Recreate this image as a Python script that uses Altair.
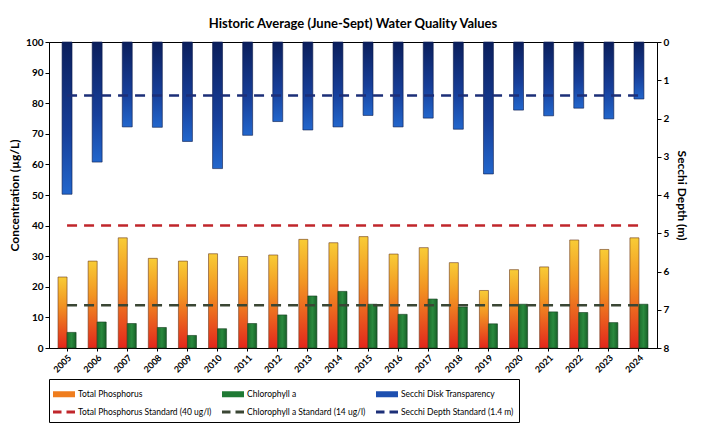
import altair as alt
import pandas as pd

years = [str(y) for y in range(2005, 2025)]
total_phosphorus = [23.2, 28.4, 36.0, 29.3, 28.4, 30.8, 29.9, 30.4, 35.5, 34.4,
                    36.4, 30.7, 32.8, 27.9, 18.8, 25.6, 26.5, 35.3, 32.2, 36.0]
chlorophyll_a = [5.1, 8.5, 8.0, 6.7, 4.1, 6.3, 8.0, 10.8, 17.0, 18.5,
                 14.3, 11.0, 16.0, 13.4, 7.9, 14.3, 11.8, 11.6, 8.3, 14.3]
secchi_depth = [3.98, 3.14, 2.22, 2.23, 2.60, 3.31, 2.44, 2.08, 2.30, 2.22,
                1.92, 2.22, 1.99, 2.28, 3.45, 1.78, 1.93, 1.73, 2.01, 1.49]
tp_standard = 40
chl_standard = 14
secchi_standard = 1.4

series_names = ["Total Phosphorus", "Chlorophyll a", "Secchi Disk Transparency",
                "Total Phosphorus Standard (40 ug/l)", "Chlorophyll a Standard (14 ug/l)",
                "Secchi Depth Standard (1.4 m)"]
series_colors = ["#ef7d1e", "#1f7a34", "#1d4fb0", "#c0262b", "#3a4634", "#1c2f78"]
rect_path = "M-1.1,-0.3H1.1V0.3H-1.1Z"
dash_path = "M-1.1,-0.14H-0.25V0.14H-1.1Z M0.25,-0.14H1.1V0.14H0.25Z"
series_shapes = [rect_path, rect_path, rect_path, dash_path, dash_path, dash_path]

bars_df = pd.DataFrame({
    "year": years + years,
    "series": [series_names[0]] * len(years) + [series_names[1]] * len(years),
    "value": total_phosphorus + chlorophyll_a,
})
secchi_df = pd.DataFrame({"year": years, "depth": secchi_depth})
std_df = pd.DataFrame({
    "year": years,
    "tp_std": [tp_standard] * len(years),
    "chl_std": [chl_standard] * len(years),
    "secchi_std": [secchi_standard] * len(years),
})
# legend-only points, placed below the axis range and clipped away
legend_df = pd.DataFrame({"year": [years[0]] * 6, "series": series_names, "value": [-50] * 6})

FONT = "Lato"

x_enc = alt.X("year:N", sort=years,
              scale=alt.Scale(paddingInner=0.4, paddingOuter=0.3),
              axis=alt.Axis(title=None, labelAngle=-45, labelFontSize=9, labelPadding=2,
                            tickSize=3, labelAlign="right", labelBaseline="top"))
left_scale = alt.Scale(domain=[0, 100])
left_axis = alt.Axis(title="Concentration (µg/L)", values=list(range(0, 101, 10)),
                     tickSize=4, titlePadding=4, orient="left", labelOverlap=False)
right_scale = alt.Scale(domain=[0, 8], reverse=True)
right_axis = alt.Axis(orient="right", title="Secchi Depth (m)", values=list(range(0, 9)),
                      tickSize=4, titlePadding=6, labelOverlap=False)

xoff = alt.XOffset("series:N", sort=series_names[:2],
                   scale=alt.Scale(domain=series_names[:2], paddingInner=0, paddingOuter=0))

orange_grad = alt.Gradient(
    gradient="linear", x1=0, x2=0, y1=0, y2=1,
    stops=[alt.GradientStop(color="#f8cc36", offset=0),
           alt.GradientStop(color="#f29422", offset=0.4),
           alt.GradientStop(color="#e2261b", offset=1)])
green_grad = alt.Gradient(
    gradient="linear", x1=0, x2=1, y1=0, y2=0,
    stops=[alt.GradientStop(color="#1b6a2c", offset=0),
           alt.GradientStop(color="#2a8a3e", offset=0.5),
           alt.GradientStop(color="#176028", offset=1)])
blue_grad = alt.Gradient(
    gradient="linear", x1=0, x2=0, y1=0, y2=1,
    stops=[alt.GradientStop(color="#0b1f5c", offset=0),
           alt.GradientStop(color="#173f9a", offset=0.6),
           alt.GradientStop(color="#2266cc", offset=1)])

tp_bars = alt.Chart(bars_df).transform_filter(
    alt.datum.series == series_names[0]
).mark_bar(fill=orange_grad, stroke="#6b3a20", strokeWidth=0.6).encode(
    x=x_enc, xOffset=xoff, y=alt.Y("value:Q", scale=left_scale, axis=left_axis))

chl_bars = alt.Chart(bars_df).transform_filter(
    alt.datum.series == series_names[1]
).mark_bar(fill=green_grad, stroke="#123d1c", strokeWidth=0.6).encode(
    x=x_enc, xOffset=xoff, y=alt.Y("value:Q", scale=left_scale, axis=left_axis))

tp_line = alt.Chart(std_df).mark_line(color="#c0262b", strokeWidth=2.5, strokeDash=[10, 7]).encode(
    x=x_enc, y=alt.Y("tp_std:Q", scale=left_scale, axis=left_axis))
chl_line = alt.Chart(std_df).mark_line(color="#3a4634", strokeWidth=2.5, strokeDash=[10, 7]).encode(
    x=x_enc, y=alt.Y("chl_std:Q", scale=left_scale, axis=left_axis))

legend_pts = alt.Chart(legend_df).mark_point(filled=True, clip=True, opacity=1).encode(
    x=x_enc,
    y=alt.Y("value:Q", scale=left_scale, axis=left_axis),
    color=alt.Color("series:N", sort=series_names,
                    scale=alt.Scale(domain=series_names, range=series_colors),
                    legend=alt.Legend(title=None, orient="bottom", direction="horizontal",
                                      columns=3, symbolSize=400, symbolStrokeWidth=0,
                                      symbolOpacity=1, labelFontSize=8.5, labelFont=FONT,
                                      labelColor="black", columnPadding=10, rowPadding=3,
                                      strokeColor="black", padding=5, offset=4,
                                      labelLimit=300)),
    shape=alt.Shape("series:N", sort=series_names,
                    scale=alt.Scale(domain=series_names, range=series_shapes)),
)

left = alt.layer(tp_bars, chl_bars, tp_line, chl_line, legend_pts)

secchi_bars = alt.Chart(secchi_df).mark_bar(
    fill=blue_grad, stroke="#0a1a4a", strokeWidth=0.6, width=alt.RelativeBandSize(0.55)
).encode(
    x=x_enc,
    y=alt.Y("depth:Q", scale=right_scale, axis=right_axis))
secchi_line = alt.Chart(std_df).mark_line(color="#1c2f78", strokeWidth=2.5, strokeDash=[10, 7]).encode(
    x=x_enc, y=alt.Y("secchi_std:Q", scale=right_scale, axis=right_axis))

right = alt.layer(secchi_bars, secchi_line)

chart = alt.layer(left, right).resolve_scale(y="independent").properties(
    width=608, height=306,
    title=alt.Title("Historic Average (June-Sept) Water Quality Values", offset=6),
    padding={"left": 0, "right": 2, "top": 10, "bottom": 0},
).configure_axis(
    labelFont=FONT, labelFontWeight="bold", labelColor="black", labelFontSize=10,
    titleFont=FONT, titleFontWeight="bold", titleColor="black", titleFontSize=12,
    domainColor="black", tickColor="black", grid=False,
).configure_view(
    stroke="black", strokeWidth=1,
).configure_title(
    font=FONT, fontSize=13, fontWeight="bold", color="black", anchor="middle",
)

chart.save("out.html", embed_options={"renderer": "svg", "actions": False})
